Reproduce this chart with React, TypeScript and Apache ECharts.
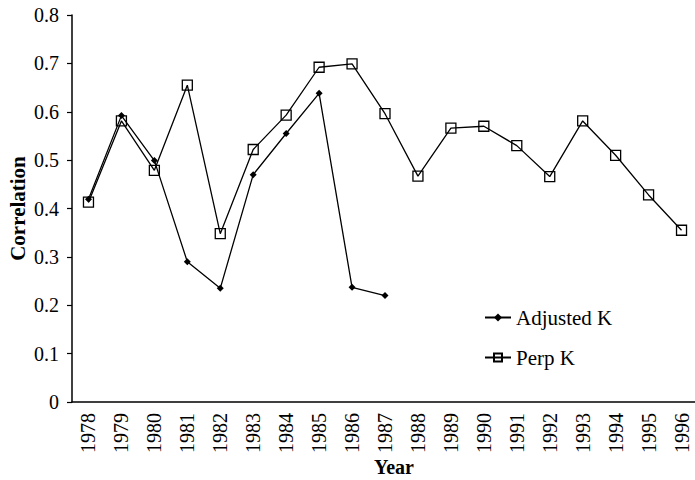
import React, { useEffect, useRef } from "react";
import * as echarts from "echarts";

const years = [
  "1978", "1979", "1980", "1981", "1982", "1983", "1984", "1985", "1986", "1987",
  "1988", "1989", "1990", "1991", "1992", "1993", "1994", "1995", "1996",
];
const adjustedK = [0.419, 0.592, 0.499, 0.29, 0.235, 0.47, 0.555, 0.638, 0.237, 0.22];
const perpK = [
  0.413, 0.581, 0.479, 0.655, 0.348, 0.522, 0.593, 0.692, 0.699, 0.596,
  0.467, 0.566, 0.57, 0.53, 0.466, 0.581, 0.51, 0.428, 0.355,
];
const yTicks = [0, 0.1, 0.2, 0.3, 0.4, 0.5, 0.6, 0.7, 0.8];

const FONT = "Liberation Serif, Times New Roman, serif";

export default function App() {
  const ref = useRef<HTMLDivElement>(null);
  useEffect(() => {
    if (!ref.current) return;
    const chart = echarts.init(ref.current, null, { renderer: "svg" });
    chart.setOption({
      animation: false,
      backgroundColor: "#fff",
      textStyle: { fontFamily: FONT, color: "#000" },
      grid: {
        left: 72,
        right: -3,
        top: 15,
        bottom: 78,
        containLabel: false,
        outerBoundsMode: "none",
      },
      legend: {
        orient: "vertical",
        left: 484,
        top: 307,
        padding: 0,
        itemWidth: 26,
        itemHeight: 10,
        itemGap: 19,
        textStyle: { fontFamily: FONT, fontSize: 21, color: "#000" },
        data: ["Adjusted K", "Perp K"],
      },
      xAxis: {
        type: "category",
        data: years,
        name: "Year",
        nameLocation: "middle",
        nameGap: 55,
        nameMoveOverlap: false,
        nameTextStyle: {
          fontFamily: FONT,
          fontSize: 20,
          fontWeight: "bold",
          color: "#000",
          padding: [0, 0, 0, 18],
        },
        axisLine: { lineStyle: { color: "#000", width: 1.5 } },
        axisTick: { length: 4, lineStyle: { color: "#000", width: 1.2 } },
        axisLabel: {
          rotate: 90,
          margin: 11,
          fontFamily: FONT,
          fontSize: 20,
          color: "#000",
          interval: 0,
        },
        splitLine: { show: false },
      },
      yAxis: {
        type: "value",
        min: yTicks[0],
        max: yTicks[yTicks.length - 1],
        interval: yTicks[1] - yTicks[0],
        name: "Correlation",
        nameLocation: "middle",
        nameGap: 44,
        nameMoveOverlap: false,
        nameTextStyle: {
          fontFamily: FONT,
          fontSize: 21,
          fontWeight: "bold",
          color: "#000",
        },
        axisLine: { show: true, lineStyle: { color: "#000", width: 1.5 } },
        axisTick: { show: true, length: 5, lineStyle: { color: "#000", width: 1.2 } },
        axisLabel: {
          margin: 13,
          fontFamily: FONT,
          fontSize: 20,
          color: "#000",
          padding: [6, 0, 0, 0],
          formatter: (v: number) => (v === 0 ? "0" : v.toFixed(1)),
        },
        splitLine: { show: false },
      },
      series: [
        {
          name: "Adjusted K",
          type: "line",
          data: adjustedK,
          symbol: "diamond",
          symbolSize: 7,
          lineStyle: { color: "#000", width: 1.3 },
          itemStyle: { color: "#000" },
          z: 2,
        },
        {
          name: "Perp K",
          type: "line",
          data: perpK,
          symbol: "rect",
          symbolSize: 10,
          showAllSymbol: true,
          lineStyle: { color: "#000", width: 1.3 },
          itemStyle: { color: "rgba(0,0,0,0)", borderColor: "#000", borderWidth: 1.3 },
          z: 3,
        },
      ],
    });
    return () => chart.dispose();
  }, []);
  return (
    <div
      ref={ref}
      style={{ position: "fixed", left: 0, top: 0, width: 695, height: 480, background: "#fff" }}
    />
  );
}
